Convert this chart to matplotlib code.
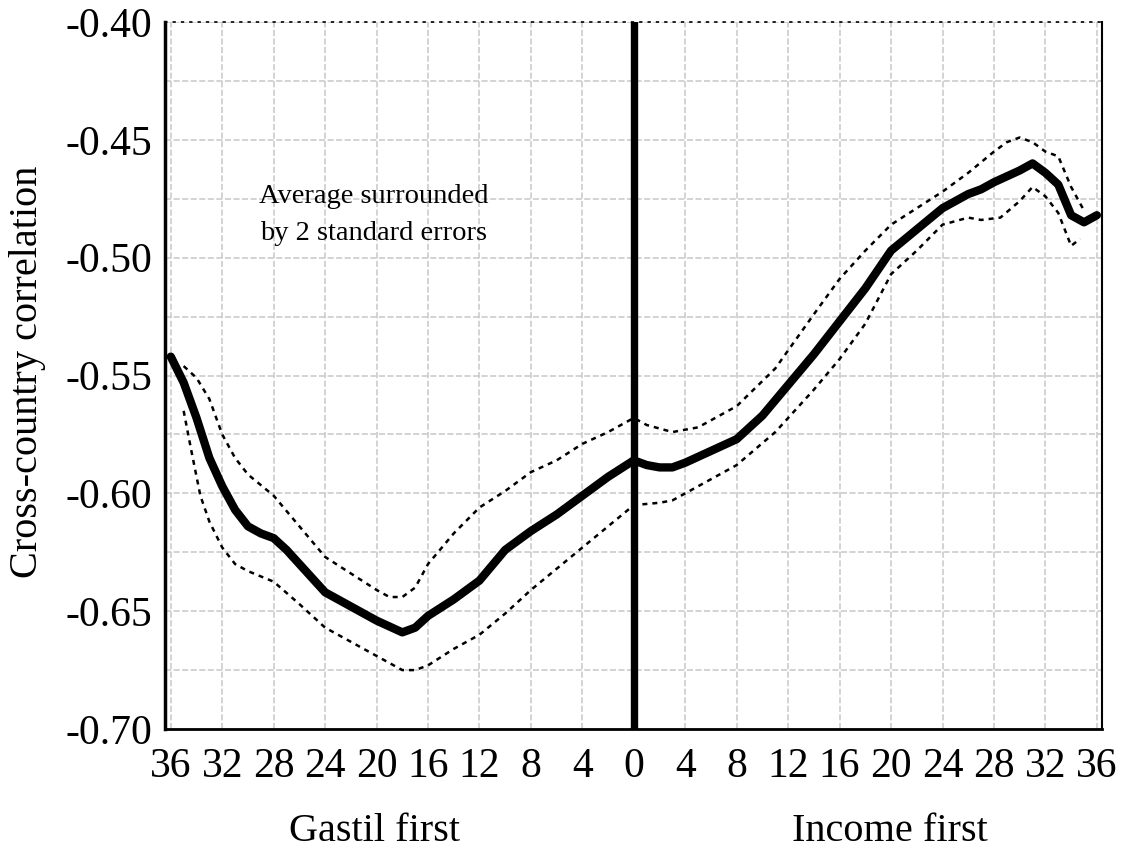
import numpy as np
import matplotlib
matplotlib.use("Agg")
import matplotlib.pyplot as plt

plt.rcParams['font.family'] = ['Liberation Serif', 'DejaVu Serif']

# average cross-country correlation by lag (negative = Gastil first)
lag_mean = [-36, -35, -34, -33, -32, -31, -30, -29, -28, -27, -26, -25, -24, -22, -20,
            -18, -17, -16, -14, -12, -10, -8, -6, -4, -2, 0, 1, 2, 3, 4, 6, 8, 10, 12,
            14, 16, 18, 20, 22, 24, 26, 27, 28, 30, 31, 32, 33, 34, 35, 36]
corr_mean = [-0.542, -0.553, -0.568, -0.585, -0.597, -0.607, -0.614, -0.617, -0.619, -0.624,
             -0.630, -0.636, -0.642, -0.648, -0.654, -0.659, -0.657, -0.652, -0.645, -0.637,
             -0.624, -0.616, -0.609, -0.601, -0.593, -0.586, -0.588, -0.589, -0.589, -0.587,
             -0.582, -0.577, -0.567, -0.554, -0.541, -0.527, -0.513, -0.497, -0.488, -0.479,
             -0.473, -0.471, -0.468, -0.463, -0.460, -0.464, -0.469, -0.482, -0.485, -0.482]

# + 2 standard errors
lag_up = [-35, -34, -33, -32, -31, -30, -28, -26, -24, -22, -20, -19, -18, -17, -16, -14,
          -12, -10, -8, -6, -4, -2, 0, 1, 3, 5, 8, 11, 14, 16, 18, 20, 22, 24, 26, 28, 29,
          30, 31, 32, 33, 34, 35]
corr_up = [-0.546, -0.551, -0.560, -0.575, -0.585, -0.592, -0.601, -0.614, -0.627, -0.634,
           -0.641, -0.644, -0.644, -0.640, -0.630, -0.617, -0.606, -0.599, -0.591, -0.586,
           -0.579, -0.574, -0.568, -0.571, -0.574, -0.572, -0.563, -0.547, -0.524, -0.509,
           -0.497, -0.486, -0.479, -0.472, -0.464, -0.455, -0.451, -0.449, -0.451, -0.455,
           -0.457, -0.470, -0.480]

# - 2 standard errors
lag_lo = [-35, -34.4, -33.7, -33, -32, -31, -30, -28, -26, -24, -22, -20, -18, -17, -16,
          -14, -12, -10, -8, -6, -4, -2, 0, 2, 3, 5, 8, 11, 14, 16, 18, 20, 22, 24, 26,
          27, 28.5, 30, 31, 32, 33, 34, 34.7]
corr_lo = [-0.565, -0.582, -0.601, -0.612, -0.623, -0.630, -0.633, -0.6375, -0.647, -0.657,
           -0.663, -0.669, -0.675, -0.675, -0.673, -0.666, -0.660, -0.651, -0.641, -0.632,
           -0.623, -0.614, -0.605, -0.604, -0.603, -0.597, -0.588, -0.574, -0.556, -0.543,
           -0.528, -0.507, -0.497, -0.486, -0.483, -0.484, -0.483, -0.476, -0.470, -0.474,
           -0.481, -0.495, -0.492]

xticks = list(range(-36, 37, 4))
xticklabels = [str(abs(t)) for t in xticks]
yticks = [-0.70, -0.65, -0.60, -0.55, -0.50, -0.45, -0.40]
yticklabels = ['-0.70', '-0.65', '-0.60', '-0.55', '-0.50', '-0.45', '-0.40']

fig = plt.figure(figsize=(11.27, 8.5), dpi=100)
ax = fig.add_axes([165 / 1127, 1 - 729 / 850, 937 / 1127, 707 / 850])

ax.plot(lag_up, corr_up, color='black', lw=1.8, linestyle=(0, (2, 2)), zorder=3)
ax.plot(lag_lo, corr_lo, color='black', lw=1.8, linestyle=(0, (2, 2)), zorder=3)
ax.plot(lag_mean, corr_mean, color='black', lw=6, solid_capstyle='round',
        solid_joinstyle='round', zorder=4)
ax.axvline(0, color='black', lw=5.3, zorder=5)

ax.set_xlim(-36.45, 36.4)
ax.set_ylim(-0.70, -0.40)

ax.set_xticks(xticks)
ax.set_xticklabels(xticklabels)
ax.set_yticks(yticks)
ax.set_yticklabels(yticklabels)
ax.set_yticks(np.arange(-0.70, -0.399, 0.025), minor=True)
ax.tick_params(axis='both', which='both', length=0, labelsize=30)
ax.tick_params(axis='x', pad=13)
ax.tick_params(axis='y', pad=9)

ax.grid(True, which='both', color='#c8c8c8', lw=1.1, linestyle=(0, (4, 1.6)))
ax.set_axisbelow(True)

ax.spines['left'].set_linewidth(2.5)
ax.spines['bottom'].set_linewidth(2)
ax.spines['right'].set_linewidth(1.5)
ax.spines['top'].set_linewidth(1.2)
ax.spines['top'].set_linestyle((0, (1, 4)))

ax.text(-20.2, -0.482, "Average surrounded\nby 2 standard errors", fontsize=20.5,
        ha='center', va='center', multialignment='center', linespacing=1.65)

ax.text(-20.2, -0.145, "Gastil first", fontsize=29, ha='center', va='center',
        transform=ax.get_xaxis_transform())
ax.text(19.9, -0.145, "Income first", fontsize=29, ha='center', va='center',
        transform=ax.get_xaxis_transform())

fig.text(28 / 1127, 1 - 372 / 850, "Cross-country correlation", fontsize=29,
         rotation=90, ha='center', va='center')

plt.savefig("out.png", dpi=100)
